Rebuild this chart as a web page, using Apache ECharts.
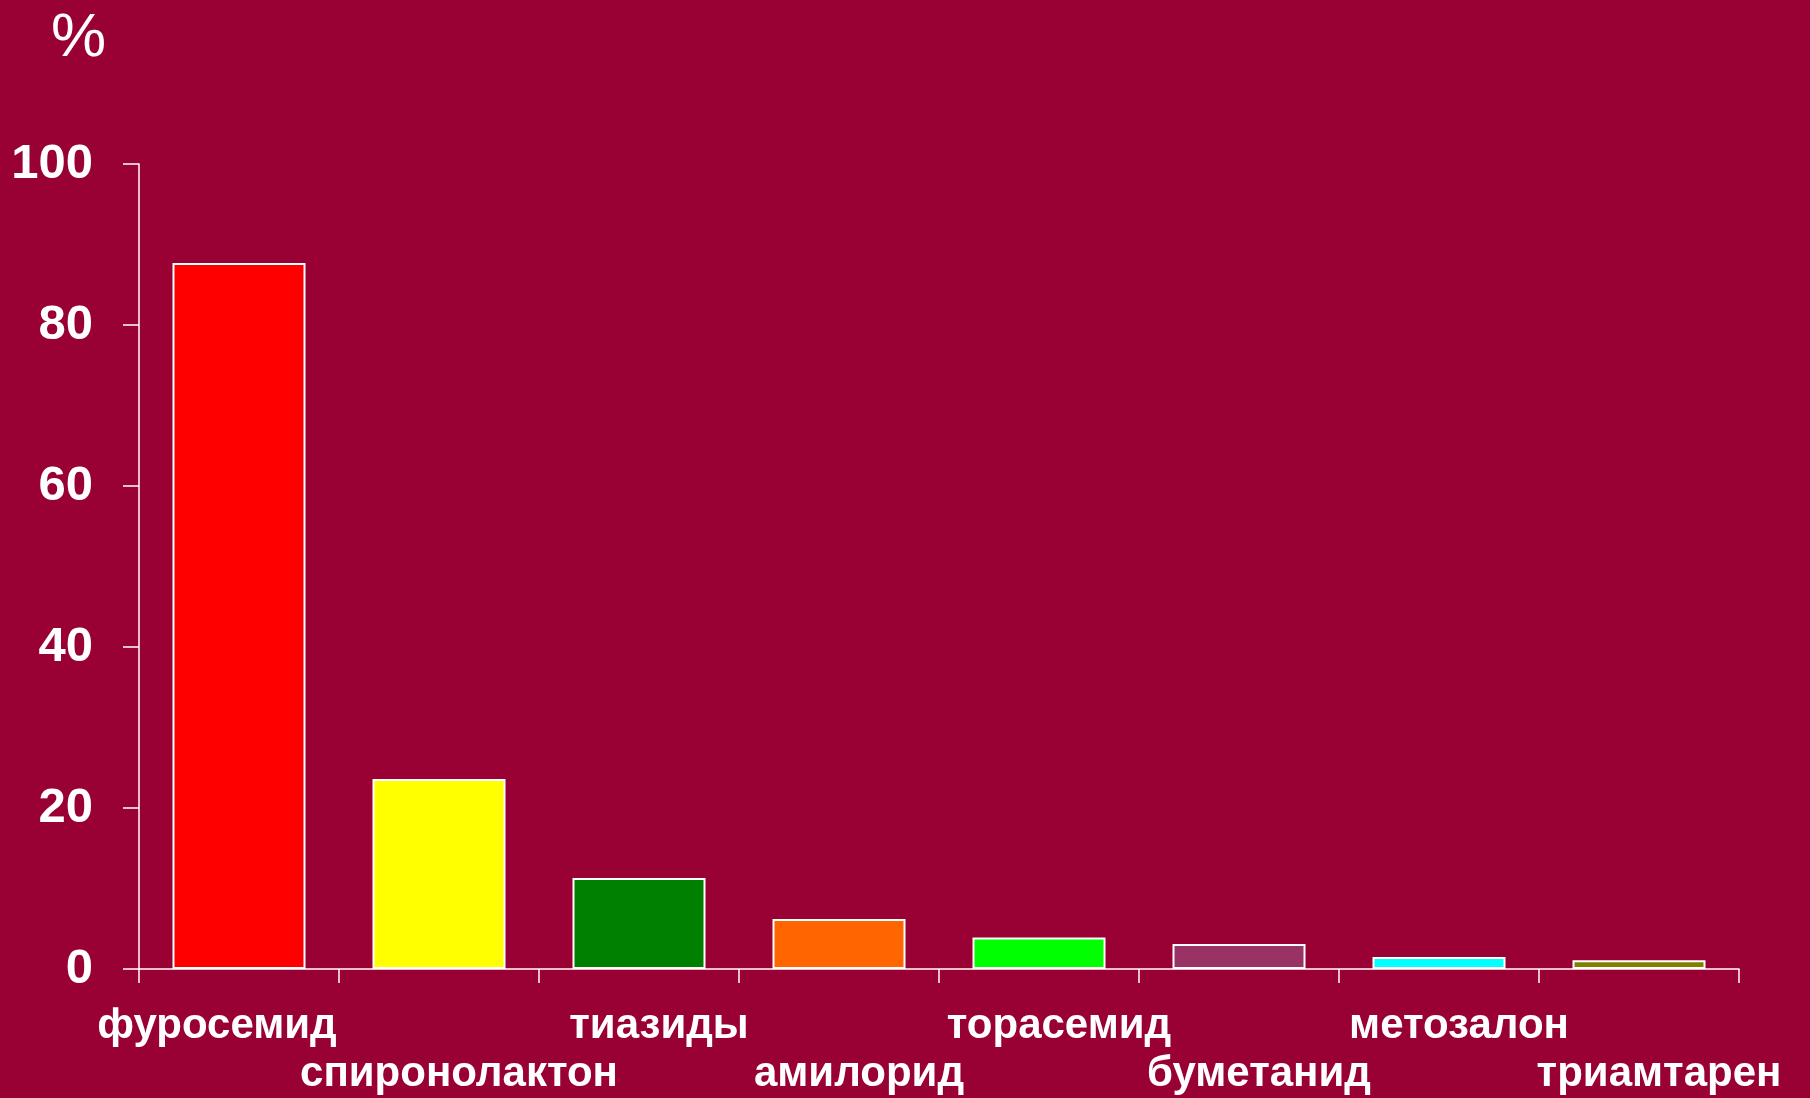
<!DOCTYPE html>
<html>
<head>
<meta charset="utf-8">
<script src="https://cdn.jsdelivr.net/npm/echarts@6/dist/echarts.min.js"></script>
<style>
  html, body { margin: 0; padding: 0; background: #990033; }
  #chart { width: 1810px; height: 1098px; }
</style>
</head>
<body>
<div id="chart"></div>
<script>
// Diuretic usage, percent of patients
const categories = ['фуросемид', 'спиронолактон', 'тиазиды', 'амилорид', 'торасемид', 'буметанид', 'метозалон', 'триамтарен'];
const values = [87.7, 23.6, 11.3, 6.2, 3.9, 3.1, 1.5, 1.1];
const barColors = ['#FF0000', '#FFFF00', '#008000', '#FF6600', '#00FF00', '#993366', '#00FFFF', '#808000'];
const yTicks = [0, 20, 40, 60, 80, 100];

const FONT = '"Liberation Sans", Arial, sans-serif';
const chart = echarts.init(document.getElementById('chart'));

chart.setOption({
  backgroundColor: '#990033',
  animation: false,
  title: {
    text: '%',
    left: 46,
    top: 3,
    textStyle: { color: '#ffffff', fontFamily: FONT, fontWeight: 'normal', fontSize: 62 }
  },
  grid: { left: 139, right: 71, top: 164, bottom: 129, containLabel: false, outerBoundsMode: 'none' },
  xAxis: {
    type: 'category',
    data: categories,
    axisLine: { lineStyle: { color: '#ffffff', width: 1.5 } },
    axisTick: { show: true, length: 14, alignWithLabel: false, lineStyle: { color: '#ffffff', width: 1.5 } },
    axisLabel: {
      interval: 0,
      margin: 33,
      verticalAlign: 'top',
      formatter: function (v, i) {
        const style = i === 0 ? 'l' : 'r';
        return (i % 2 === 1 ? '\n' : '') + '{' + style + '|' + v + '}';
      },
      color: '#ffffff',
      fontFamily: FONT,
      fontWeight: 'bold',
      fontSize: 42,
      lineHeight: 48,
      rich: {
        l: { color: '#ffffff', fontFamily: FONT, fontWeight: 'bold', fontSize: 42, lineHeight: 48, padding: [0, 44, 0, 0] },
        r: { color: '#ffffff', fontFamily: FONT, fontWeight: 'bold', fontSize: 42, lineHeight: 48, padding: [0, 0, 0, 40] }
      }
    },
    splitLine: { show: false }
  },
  yAxis: {
    type: 'value',
    min: 0,
    max: 100,
    interval: 20,
    axisLine: { show: true, lineStyle: { color: '#ffffff', width: 1.5 } },
    axisTick: { show: true, length: 16, lineStyle: { color: '#ffffff', width: 1.5 } },
    axisLabel: {
      margin: 46,
      color: '#ffffff',
      fontFamily: FONT,
      fontWeight: 'bold',
      fontSize: 49,
      formatter: function (v) { return yTicks.indexOf(v) >= 0 ? String(v) : ''; }
    },
    splitLine: { show: false }
  },
  series: [{
    type: 'bar',
    barWidth: '66.5%',
    data: values.map(function (v, i) {
      return { value: v, itemStyle: { color: barColors[i] } };
    }),
    itemStyle: { borderColor: '#ffffff', borderWidth: 2 }
  }]
});
</script>
</body>
</html>
